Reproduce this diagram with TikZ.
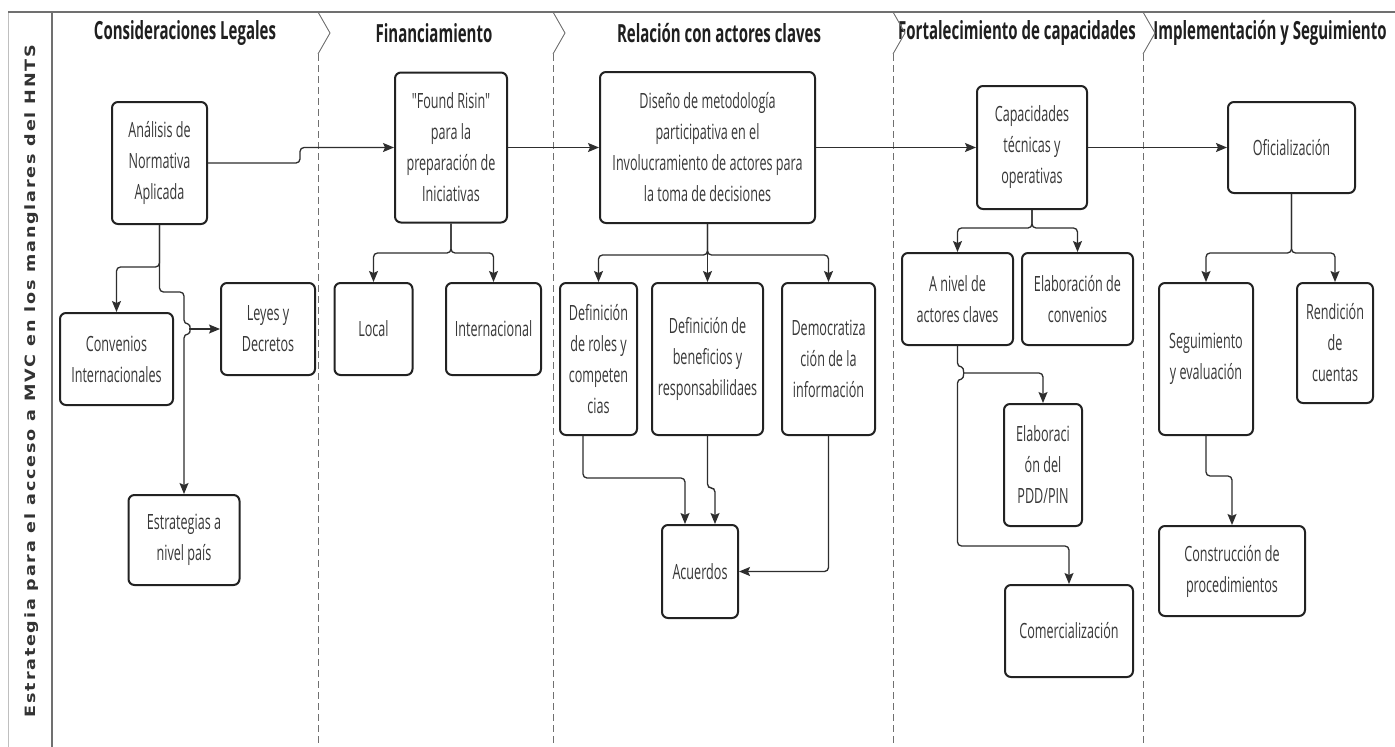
\documentclass[tikz,border=0pt]{standalone}
\usepackage{fontspec}
\usepackage{graphicx}
\usetikzlibrary{arrows.meta}
\newfontfamily\boxfont[FakeStretch=0.6]{Open Sans}
\newfontfamily\sidefont[LetterSpace=10]{DejaVu Sans}
\definecolor{lane}{HTML}{707070}
\definecolor{boxline}{HTML}{222222}
\definecolor{boxtext}{HTML}{383838}
\definecolor{conn}{HTML}{2E2E2E}
\tikzset{
  bx/.style={draw=boxline, line width=2pt, rounded corners=6pt, fill=white,
    align=center, inner sep=0pt, text=boxtext,
    font=\boxfont\fontsize{21}{31}\selectfont},
  cn/.style={draw=conn, line width=1.3pt, rounded corners=4pt,
    -{Stealth[length=11pt,width=9pt,inset=2pt]}},
  lanetitle/.style={font=\boxfont\bfseries\fontsize{25}{28}\selectfont, text=black!88, inner sep=0pt},
  chev/.style={draw=lane, line width=0.9pt},
  lanedash/.style={draw=lane, line width=0.9pt, dash pattern=on 7pt off 4pt}
}
\begin{document}
\begin{tikzpicture}[x=1pt,y=-1pt]
\useasboundingbox[fill=white] (0,0) rectangle (1395,747);

% frame
\draw[black!25, line width=0.8pt] (8,12) -- (8,747);
\draw[lane, line width=1.6pt] (8,12) -- (1395,12);
\draw[lane, line width=1.2pt] (52,12) -- (52,747);

% side label
\node[rotate=90, anchor=base, inner sep=0pt, text=black!80] (side) at (35.5,381)
  {\resizebox{672pt}{10.8pt}{\sidefont\bfseries Estrategia para el acceso a MVC en los manglares del HNTS}};

% lane titles
\node[lanetitle] (t1) at (185,33) {Consideraciones Legales};
\node[lanetitle] (t2) at (434,33) {Financiamiento};
\node[lanetitle] (t3) at (719,33) {Relación con actores claves};
\node[lanetitle] (t4) at (1017,33) {Fortalecimiento de capacidades};
\node[lanetitle] (t5) at (1270,33) {Implementación y Seguimiento};

% lane dividers
\foreach \d in {318,553,893,1143}{
  \draw[chev] (\d,12) -- (\d+12,33) -- (\d,54);
  \draw[lanedash] (\d,54) -- (\d,747);
}

% boxes
\node[bx, minimum width=95pt, minimum height=122pt] (ana) at (159.5,163) {Análisis de\\Normativa\\Aplicada};
\node[bx, minimum width=112pt, minimum height=150pt] (fr) at (451,147.5) {"Found Risin"\\para la\\preparación de\\Iniciativas};
\node[bx, minimum width=215pt, minimum height=151pt] (dis) at (707.5,147.5) {Diseño de metodología\\participativa en el\\Involucramiento de actores para\\la toma de decisiones};
\node[bx, minimum width=110pt, minimum height=123pt] (cap) at (1032,147.5) {Capacidades\\técnicas y\\operativas};
\node[bx, minimum width=127pt, minimum height=91pt] (ofi) at (1291.5,147.5) {Oficialización};

\node[bx, minimum width=113pt, minimum height=92pt] (conv) at (116.5,359) {Convenios\\Internacionales};
\node[bx, minimum width=94pt, minimum height=92pt] (ley) at (268,329) {Leyes y\\Decretos};
\node[bx, minimum width=111pt, minimum height=90pt] (est) at (184,540) {Estrategias a\\nivel país};

\node[bx, minimum width=78pt, minimum height=92pt] (loc) at (373.5,329) {Local};
\node[bx, minimum width=95pt, minimum height=92pt] (int) at (493.5,329) {Internacional};

\node[bx, minimum width=77pt, minimum height=152pt] (rol) at (598.5,359) {Definición\\de roles y\\competen\\cias};
\node[bx, minimum width=111pt, minimum height=152pt] (ben) at (707.5,359) {Definición de\\beneficios y\\responsabilidaes};
\node[bx, minimum width=93pt, minimum height=152pt] (dem) at (828.5,359) {Democratiza\\ción de la\\información};
\node[bx, minimum width=76pt, minimum height=93pt] (acu) at (700,571.5) {Acuerdos};

\node[bx, minimum width=111pt, minimum height=92pt] (niv) at (957.5,299) {A nivel de\\actores claves};
\node[bx, minimum width=111pt, minimum height=92pt] (cnv) at (1077.5,299) {Elaboración de\\convenios};
\node[bx, minimum width=78pt, minimum height=122pt] (pdd) at (1043,465) {Elaboraci\\ón del\\PDD/PIN};
\node[bx, minimum width=128pt, minimum height=92pt] (com) at (1069,631) {Comercialización};

\node[bx, minimum width=94pt, minimum height=152pt] (seg) at (1206,359) {Seguimiento\\y evaluación};
\node[bx, minimum width=76pt, minimum height=120pt] (ren) at (1335,343) {Rendición\\de\\cuentas};
\node[bx, minimum width=146pt, minimum height=90pt] (cons) at (1232,571) {Construcción de\\procedimientos};

% main flow
\draw[cn] (ana.east) -- (300,163) -- (300,147.5) -- (fr.west);
\draw[cn] (fr.east) -- (dis.west);
\draw[cn] (dis.east) -- (cap.west);
\draw[cn] (cap.east) -- (ofi.west);

% Consideraciones Legales
\draw[cn] (ana.south) -- (159.5,267) -- (116.5,267) -- (conv.north);
\draw[cn] (ana.south) -- (159.5,292) -- (184,292) -- (184,324)
  .. controls (191,324) and (191,334) .. (184,334) -- (est.north);
\coordinate (j1) at (189,329);
\draw[cn] (j1) -- (ley.west);

% Financiamiento
\draw[cn] (fr.south) -- (451,253) -- (373.5,253) -- (loc.north);
\draw[cn] (fr.south) -- (451,253) -- (493.5,253) -- (int.north);

% Relacion con actores
\draw[cn] (dis.south) -- (707.5,255) -- (598.5,255) -- (rol.north);
\draw[cn] (dis.south) -- (ben.north);
\draw[cn] (dis.south) -- (707.5,255) -- (828.5,255) -- (dem.north);
\draw[cn] ([xshift=-15.5pt]rol.south) -- (583,478) -- (685,478) -- ([xshift=-15pt]acu.north);
\draw[cn] (ben.south) -- (707.5,488) -- (715,488) -- ([xshift=15pt]acu.north);
\draw[cn] (dem.south) |- (acu.east);

% Fortalecimiento
\draw[cn] (cap.south) -- (1032,228) -- (957.5,228) -- (niv.north);
\draw[cn] (cap.south) -- (1032,228) -- (1077.5,228) -- (cnv.north);
\draw[cn] (niv.south) -- (957.5,367) .. controls (964.5,367) and (964.5,379) .. (957.5,379)
  -- (957.5,546) -- (1069,546) -- (com.north);
\coordinate (j2) at (963,373);
\draw[cn] (j2) -- (1043,373) -- (pdd.north);

% Implementacion
\draw[cn] (ofi.south) -- (1291.5,253) -- (1206,253) -- (seg.north);
\draw[cn] (ofi.south) -- (1291.5,253) -- (1335,253) -- (ren.north);
\draw[cn] (seg.south) -- (1206,476) -- (1232,476) -- (cons.north);
\end{tikzpicture}
\end{document}
